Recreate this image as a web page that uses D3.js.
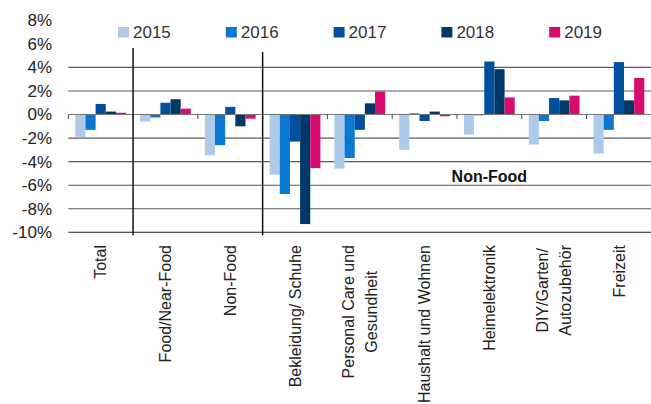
<!DOCTYPE html>
<html>
<head>
<meta charset="utf-8">
<script src="https://cdn.jsdelivr.net/npm/d3@7"></script>
<style>
  html, body { margin: 0; padding: 0; background: #fff; }
  svg { display: block; font-family: "Liberation Sans", Arial, sans-serif; }
</style>
</head>
<body>
<div id="chart"></div>
<script>
// categories (multi-line labels split on "|")
var categories = [
  'Total',
  'Food/Near-Food',
  'Non-Food',
  'Bekleidung/ Schuhe',
  'Personal Care und|Gesundheit',
  'Haushalt und Wohnen',
  'Heimelektronik',
  'DIY/Garten/|Autozubehör',
  'Freizeit'
];
var years = ['2015', '2016', '2017', '2018', '2019'];
var colors = ['#aecaeb', '#0a77d0', '#00509f', '#00386a', '#d80c6f'];

// change vs. previous year in %, one array per year, order = categories
var v2015 = [-1.9, -0.6, -3.45, -5.1, -4.6, -3.0, -1.7, -2.55, -3.3];
var v2016 = [-1.3, -0.25, -2.6, -6.75, -3.7, 0.1, -0.07, -0.55, -1.3];
var v2017 = [0.9, 1.0, 0.65, -2.3, -1.3, -0.55, 4.5, 1.4, 4.45];
var v2018 = [0.25, 1.3, -1.0, -9.3, 0.95, 0.25, 3.85, 1.2, 1.2];
var v2019 = [0.15, 0.5, -0.35, -4.55, 1.95, -0.15, 1.45, 1.6, 3.1];
var series = [v2015, v2016, v2017, v2018, v2019];

var yTicks = [8, 6, 4, 2, 0, -2, -4, -6, -8, -10];
var gridTicks = [4, 2, -2, -4, -6, -8, -10];
// groups are split after these categories
var separators = ['Total', 'Non-Food'];

var drawChart = function () {
  var W = 651, H = 404;
  var plotLeft = 68.3, plotRight = 651.3, plotTop = 20.3, plotBottom = 232.3;

  var svg = d3.select('#chart').append('svg')
    .attr('width', W)
    .attr('height', H);

  var x = d3.scaleBand()
    .domain(categories)
    .range([plotLeft, plotRight])
    .padding(0);

  var xInner = d3.scaleBand()
    .domain(years)
    .range([7, x.bandwidth() - 7])
    .padding(0);

  var y = d3.scaleLinear()
    .domain([-10, 8])
    .range([plotBottom, plotTop]);

  // gridlines
  svg.append('g').selectAll('line')
    .data(gridTicks)
    .enter().append('line')
    .attr('x1', plotLeft)
    .attr('x2', plotRight)
    .attr('y1', function (d) { return y(d); })
    .attr('y2', function (d) { return y(d); })
    .style('stroke', function (d) { return d === -10 ? '#222' : '#5a5a5a'; })
    .style('stroke-width', 1.1);

  // y axis labels
  var yAxis = d3.axisLeft(y)
    .tickValues(yTicks)
    .tickSize(0)
    .tickPadding(0)
    .tickFormat(function (d) { return d + '%'; });

  svg.append('g')
    .attr('transform', 'translate(52,0)')
    .call(yAxis)
    .call(function (g) { g.select('.domain').remove(); })
    .selectAll('text')
    .style('font-size', '17px')
    .style('fill', '#222')
    .style('font-family', '"Liberation Sans", Arial, sans-serif');

  // bars
  var groups = svg.append('g').selectAll('g')
    .data(categories)
    .enter().append('g')
    .attr('transform', function (d) { return 'translate(' + x(d) + ',0)'; });

  groups.selectAll('rect')
    .data(function (d, i) {
      return years.map(function (yr, j) {
        return { year: yr, value: series[j][i], color: colors[j] };
      });
    })
    .enter().append('rect')
    .attr('x', function (d) { return xInner(d.year); })
    .attr('width', xInner.bandwidth())
    .attr('y', function (d) { return y(Math.max(0, d.value)); })
    .attr('height', function (d) { return Math.abs(y(d.value) - y(0)); })
    .style('fill', function (d) { return d.color; });

  // zero line with ticks at the category borders
  var zero = svg.append('g');
  zero.append('line')
    .attr('x1', plotLeft)
    .attr('x2', plotRight)
    .attr('y1', y(0))
    .attr('y2', y(0))
    .style('stroke', '#777')
    .style('stroke-width', 1.1);

  zero.selectAll('.tick')
    .data(categories)
    .enter().append('line')
    .attr('class', 'tick')
    .attr('x1', function (d) { return x(d); })
    .attr('x2', function (d) { return x(d); })
    .attr('y1', y(0))
    .attr('y2', y(0) + 4.5)
    .style('stroke', '#444')
    .style('stroke-width', 1);

  // group separators
  svg.append('g').selectAll('line')
    .data(separators)
    .enter().append('line')
    .attr('x1', function (d) { return x(d) + x.bandwidth(); })
    .attr('x2', function (d) { return x(d) + x.bandwidth(); })
    .attr('y1', function (d, i) { return i === 0 ? 48 : 52; })
    .attr('y2', plotBottom + 3)
    .style('stroke', '#111')
    .style('stroke-width', 1.5);

  // category labels, rotated
  var labels = svg.append('g').selectAll('g')
    .data(categories)
    .enter().append('g')
    .attr('transform', function (d) {
      return 'translate(' + (x(d) + x.bandwidth() / 2) + ',245) rotate(-90)';
    });

  labels.each(function (d) {
    var g = d3.select(this);
    var lines = d.split('|');
    var gap = 22.5;
    var texts = lines.map(function (line, i) {
      return g.append('text')
        .attr('y', (i - (lines.length - 1) / 2) * gap)
        .attr('dy', '0.35em')
        .style('font-size', '16px')
        .style('fill', '#222')
        .text(line);
    });
    var maxLen = d3.max(texts, function (t) { return t.node().getComputedTextLength(); });
    texts.forEach(function (t) {
      t.attr('x', -maxLen / 2).attr('text-anchor', 'middle');
    });
  });

  // annotation
  svg.append('text')
    .attr('x', x('Heimelektronik') + x.bandwidth() / 2)
    .attr('y', y(-5.7))
    .attr('text-anchor', 'middle')
    .style('font-size', '16px')
    .style('font-weight', 'bold')
    .style('fill', '#111')
    .text('Non-Food');

  // legend
  var legend = svg.append('g').selectAll('g')
    .data(years)
    .enter().append('g')
    .attr('transform', function (d, i) { return 'translate(' + (118 + i * 107.8) + ',27)'; });

  legend.append('rect')
    .attr('width', 11)
    .attr('height', 10.5)
    .style('fill', function (d, i) { return colors[i]; });

  legend.append('text')
    .attr('x', 15)
    .attr('y', 11.3)
    .style('font-size', '17px')
    .style('fill', '#333')
    .text(function (d) { return d; });
};

drawChart();
</script>
</body>
</html>
